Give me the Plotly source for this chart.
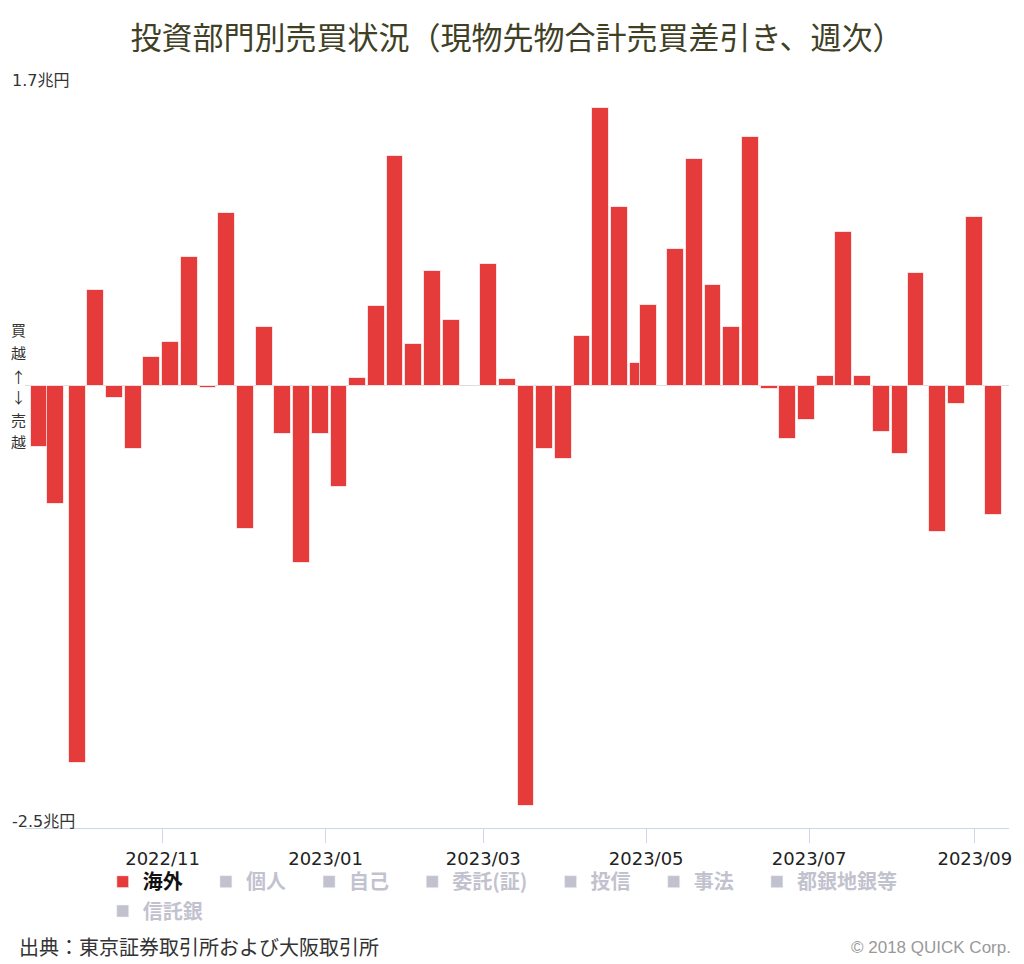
import plotly.graph_objects as go

# ---- data ----
week_dates = [
    "2022-09-16", "2022-09-22", "2022-09-30", "2022-10-07", "2022-10-14", "2022-10-21",
    "2022-10-28", "2022-11-04", "2022-11-11", "2022-11-18", "2022-11-25", "2022-12-02",
    "2022-12-09", "2022-12-16", "2022-12-23", "2022-12-30", "2023-01-06", "2023-01-13",
    "2023-01-20", "2023-01-27", "2023-02-03", "2023-02-10", "2023-02-17", "2023-02-24",
    "2023-03-03", "2023-03-10", "2023-03-17", "2023-03-24", "2023-03-31", "2023-04-07",
    "2023-04-14", "2023-04-21", "2023-04-28", "2023-05-02", "2023-05-12", "2023-05-19",
    "2023-05-26", "2023-06-02", "2023-06-09", "2023-06-16", "2023-06-23", "2023-06-30",
    "2023-07-07", "2023-07-14", "2023-07-21", "2023-07-28", "2023-08-04", "2023-08-10",
    "2023-08-18", "2023-08-25", "2023-09-01", "2023-09-08",
]
kaigai = [
    -0.345, -0.67, -2.13, 0.544, -0.067, -0.355,
    0.162, 0.245, 0.726, -0.01, 0.974, -0.81,
    0.332, -0.272, -1.0, -0.272, -0.572, 0.046,
    0.448, 1.301, 0.237, 0.649, 0.371, None,
    0.686, 0.036, -2.374, -0.356, -0.412, 0.283,
    1.57, 1.012, 0.131, 0.456, 0.773, 1.28,
    0.572, 0.332, 1.404, -0.021, -0.299, -0.193,
    0.054, 0.868, 0.054, -0.26, -0.386, 0.639,
    -0.824, -0.106, 0.956, -0.729,
]
main_series = "海外"
hidden_row1 = ["個人", "自己", "委託(証)", "投信", "事法", "都銀地銀等"]
hidden_row2 = ["信託銀"]

tick_dates = ["2022-11-01", "2023-01-01", "2023-03-01", "2023-05-01", "2023-07-01", "2023-09-01"]
tick_labels = ["2022/11", "2023/01", "2023/03", "2023/05", "2023/07", "2023/09"]

y_labels = [(1.7, "1.7兆円", -7), (-2.5, "-2.5兆円", -5)]
side_chars = ["買", "越", "↑", "↓", "売", "越"]
side_shifts = [56, 33, 9, -11, -34, -56]

title_text = "投資部門別売買状況（現物先物合計売買差引き、週次）"
source_text = "出典：東京証券取引所および大阪取引所"
credit_text = "© 2018 QUICK Corp."

RED = "#e53b3b"
GRAY = "#8686a0"
JP = "Noto Sans CJK JP"
DAY_MS = 86400000
PAD = "\u00a0" * 4

fig = go.Figure()
fig.add_trace(go.Bar(
    x=week_dates, y=kaigai, name=f"<span style='color:#111'>{main_series}</span>{PAD}",
    marker=dict(color=RED, line=dict(color="rgba(255,255,255,0.7)", width=1)),
    width=[6.3 * DAY_MS] * len(week_dates), legend="legend",
))
for leg, names in (("legend", hidden_row1), ("legend2", hidden_row2)):
    for nm in names:
        fig.add_trace(go.Bar(
            x=week_dates, y=[None] * len(week_dates),
            name=f"<span style='color:{GRAY}'>{nm}</span>{PAD}",
            marker=dict(color=GRAY), visible="legendonly", legend=leg,
        ))

annotations = []
for val, txt, sh in y_labels:
    annotations.append(dict(
        x=0, xref="paper", xshift=-15, xanchor="left",
        y=val, yref="y", yanchor="bottom", yshift=sh,
        text=txt, showarrow=False,
        font=dict(family="DejaVu Sans, " + JP, size=16, color="#333333"),
    ))
for ch, sh in zip(side_chars, side_shifts):
    annotations.append(dict(
        x=0, xref="paper", xshift=-7, xanchor="center",
        y=0, yref="y", yshift=sh, yanchor="middle",
        text=ch, showarrow=False,
        font=dict(family=JP, size=15, color="#333333"),
    ))
annotations.append(dict(
    x=0, xref="paper", xshift=-8, xanchor="left",
    y=-0.159, yref="paper", yanchor="middle",
    text=source_text, showarrow=False,
    font=dict(family=JP, size=20, color="#333333"),
))
annotations.append(dict(
    x=1, xref="paper", xshift=4, xanchor="right",
    y=-0.161, yref="paper", yanchor="middle",
    text=credit_text, showarrow=False,
    font=dict(family="Liberation Sans", size=17, color="#999999"),
))

legend_font = dict(family=JP, size=20, weight="bold", color="#111111")
fig.update_layout(
    width=1024, height=964,
    margin=dict(l=25, r=12, t=85, b=136),
    paper_bgcolor="white", plot_bgcolor="white",
    title=dict(text=title_text, x=0.5, xref="paper", y=0.960, yanchor="middle",
               font=dict(family=JP, size=31, color="#404025")),
    showlegend=True,
    legend=dict(orientation="h", x=0.079, xanchor="left", y=-0.046, yanchor="top",
                font=legend_font, bgcolor="rgba(0,0,0,0)", traceorder="normal"),
    legend2=dict(orientation="h", x=0.079, xanchor="left", y=-0.0855, yanchor="top",
                 font=legend_font, bgcolor="rgba(0,0,0,0)", traceorder="normal"),
    xaxis=dict(type="date", range=["2022-09-10 12:00", "2023-09-13 19:00"],
               tickvals=tick_dates, ticktext=tick_labels,
               ticks="outside", ticklen=14, tickcolor="#ccd6eb", tickwidth=1,
               showline=True, linecolor="#ccd6eb", linewidth=1,
               showgrid=False, zeroline=False,
               tickfont=dict(family="DejaVu Sans", size=18, color="#222222")),
    yaxis=dict(range=[-2.5, 1.7], tickvals=[1.7], showticklabels=False,
               showgrid=True, gridcolor="#e6e6e6", gridwidth=1,
               zeroline=True, zerolinecolor="#dddddd", zerolinewidth=1,
               showline=False),
    bargap=0,
    annotations=annotations,
)

fig.write_html("out.html")
